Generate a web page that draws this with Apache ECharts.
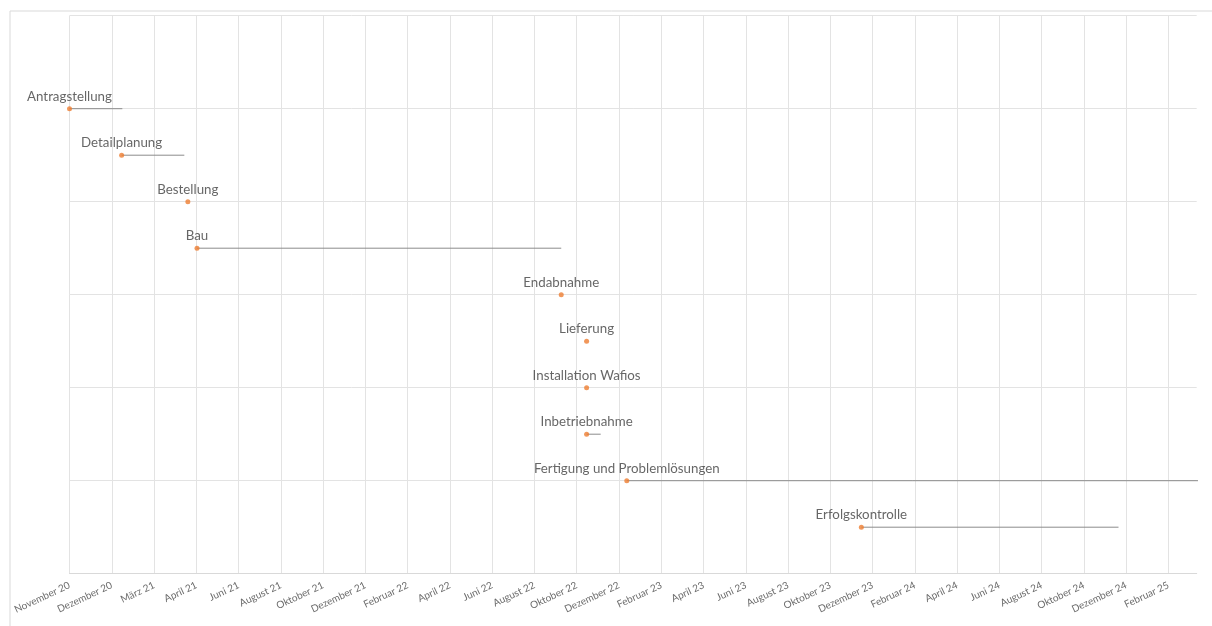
<!DOCTYPE html>
<html><head><meta charset="utf-8">
<script src="https://cdn.jsdelivr.net/npm/echarts@6/dist/echarts.min.js"></script>
<style>html,body{margin:0;padding:0;background:#fff}#c{width:1212px;height:626px}</style>
</head><body><div id="c"></div>
<script>
const tasks = ['Antragstellung','Detailplanung','Bestellung','Bau','Endabnahme','Lieferung','Installation Wafios','Inbetriebnahme','Fertigung und Problemlösungen','Erfolgskontrolle'];
const startDates = ['2020-11-01','2021-01-14','2021-04-18','2021-05-01','2022-09-30','2022-11-05','2022-11-05','2022-11-05','2023-01-01','2023-11-30'];
const durations = [75, 89, 0, 517, 0, 0, 0, 20, 820, 365];
const rows = [10, 9, 8, 7, 6, 5, 4, 3, 2, 1];
const axisStart = '2020-11-01';
const tickStepDays = 60;
const axisEndDays = 1600;
const tickLabels = ['November 20','Dezember 20','März 21','April 21','Juni 21','August 21','Oktober 21','Dezember 21','Februar 22','April 22','Juni 22','August 22','Oktober 22','Dezember 22','Februar 23','April 23','Juni 23','August 23','Oktober 23','Dezember 23','Februar 24','April 24','Juni 24','August 24','Oktober 24','Dezember 24','Februar 25'];

function dayOffset(s){
  const p = s.split('-').map(Number), b = axisStart.split('-').map(Number);
  return (Date.UTC(p[0],p[1]-1,p[2]) - Date.UTC(b[0],b[1]-1,b[2]))/86400000;
}
const startDays = startDates.map(dayOffset);
const barData = startDays.map((d,i)=>[d, d+durations[i], rows[i]]);
const pointData = startDays.map((d,i)=>[d, rows[i]]);

const chart = echarts.init(document.getElementById('c'), null, {renderer:'canvas'});
chart.setOption({
  animation:false,
  backgroundColor:'#fff',
  textStyle:{fontFamily:'Lato'},
  graphic:[{type:'rect', left:7.5, top:8.5, shape:{width:1300, height:700}, style:{fill:'none', stroke:'#d9d9d9', lineWidth:1}, silent:true}],
  grid:{left:69.5, right:15.3, top:15.7, bottom:52.3, containLabel:false},
  xAxis:{
    type:'value', min:0, max:axisEndDays, interval:tickStepDays,
    axisLine:{show:true, lineStyle:{color:'#d9d9d9'}},
    axisTick:{show:false},
    splitLine:{show:true, showMaxLine:false, lineStyle:{color:'#e3e3e3', width:1}},
    axisLabel:{
      rotate:25, fontSize:10, color:'#6b6b6b', fontFamily:'Lato', margin:11,
      showMaxLabel:false,
      formatter:(v)=>{ const k = v/tickStepDays; return Number.isInteger(k) && tickLabels[k] ? tickLabels[k] : ''; }
    }
  },
  yAxis:{
    type:'value', min:0, max:12, interval:2,
    axisLine:{show:false}, axisTick:{show:false}, axisLabel:{show:false},
    splitLine:{show:true, lineStyle:{color:'#e3e3e3', width:1}}
  },
  series:[
    {
      type:'custom', clip:true, z:2,
      data:barData,
      encode:{x:[0,1], y:2},
      renderItem:(params, api)=>{
        const s = api.coord([api.value(0), api.value(2)]);
        const e = api.coord([api.value(1), api.value(2)]);
        return {type:'line', shape:{x1:s[0], y1:s[1], x2:e[0], y2:e[1]}, style:{stroke:'#8c8c8c', lineWidth:1}};
      }
    },
    {
      type:'scatter', z:3,
      data:pointData,
      symbolSize:5,
      itemStyle:{color:'#ed7d31'},
      label:{
        show:true, position:'top', distance:3,
        color:'#404040', fontSize:13.3, fontFamily:'Lato',
        formatter:(p)=>tasks[p.dataIndex]
      }
    }
  ]
});
</script></body></html>
